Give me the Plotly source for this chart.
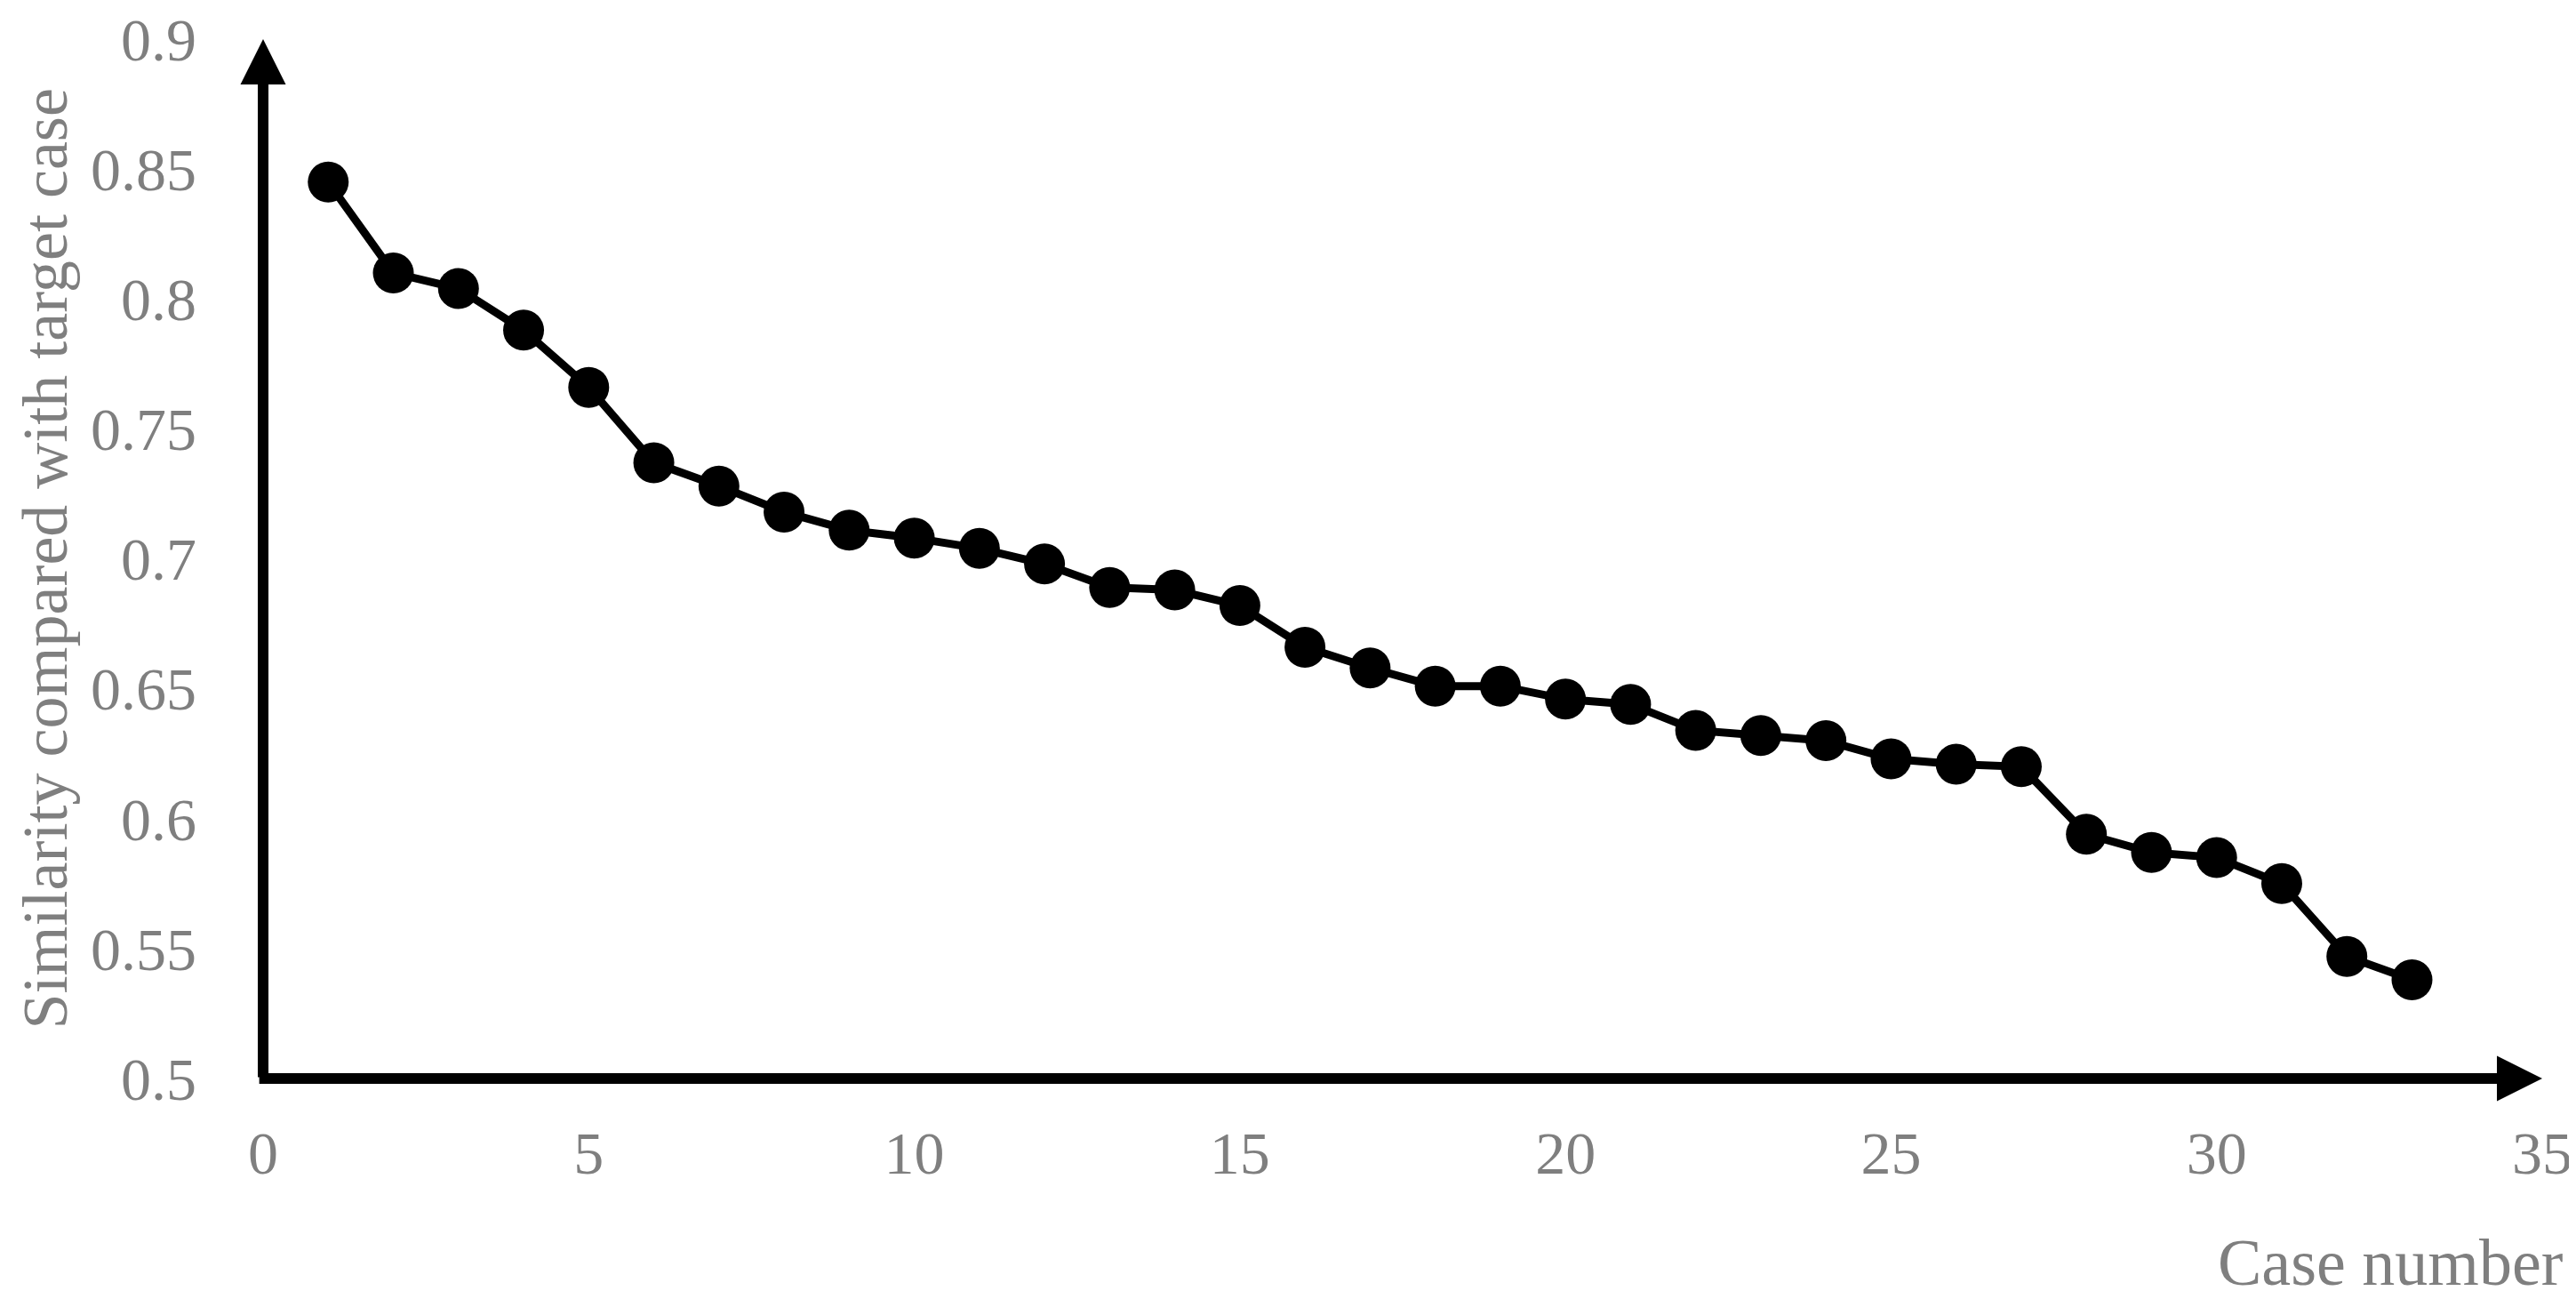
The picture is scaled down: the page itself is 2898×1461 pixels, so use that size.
"""Similarity of each stored case to the target case, sorted descending."""

import plotly.graph_objects as go

# Data
case_numbers = [1, 2, 3, 4, 5, 6, 7, 8, 9, 10, 11, 12, 13, 14, 15, 16, 17,
                18, 19, 20, 21, 22, 23, 24, 25, 26, 27, 28, 29, 30, 31, 32, 33]
similarity = [0.845, 0.810, 0.804, 0.788, 0.766, 0.737, 0.728, 0.718, 0.711,
              0.708, 0.704, 0.698, 0.689, 0.688, 0.682, 0.666, 0.658, 0.651,
              0.651, 0.646, 0.644, 0.634, 0.632, 0.630, 0.623, 0.621, 0.620,
              0.594, 0.587, 0.585, 0.575, 0.547, 0.538]

x_ticks = [0, 5, 10, 15, 20, 25, 30, 35]
y_ticks = [0.5, 0.55, 0.6, 0.65, 0.7, 0.75, 0.8, 0.85, 0.9]
y_tick_text = ["0.5", "0.55", "0.6", "0.65", "0.7", "0.75", "0.8", "0.85", "0.9"]

x_title = "Case number"
y_title = "Similarity compared with target case"

GRAY = "#7f7f7f"
FONT = "Liberation Serif"
AXIS_W = 12

fig = go.Figure()
fig.add_trace(
    go.Scatter(
        x=case_numbers,
        y=similarity,
        mode="lines+markers",
        line={"color": "black", "width": 9},
        marker={"color": "black", "size": 46},
        cliponaxis=False,
        showlegend=False,
    )
)

# Axis lines drawn as arrows (y up, x right)
fig.add_annotation(
    x=x_ticks[0], y=y_ticks[-1], ax=x_ticks[0], ay=y_ticks[0],
    xref="x", yref="y", axref="x", ayref="y",
    text="", showarrow=True, arrowhead=2, arrowsize=0.85,
    arrowwidth=AXIS_W, arrowcolor="black", standoff=0,
)
fig.add_annotation(
    x=x_ticks[-1], y=y_ticks[0], ax=-0.08, ay=y_ticks[0],
    xref="x", yref="y", axref="x", ayref="y",
    text="", showarrow=True, arrowhead=2, arrowsize=0.85,
    arrowwidth=AXIS_W, arrowcolor="black", standoff=0,
)

# Axis titles
fig.add_annotation(
    text=y_title, xref="paper", yref="paper", x=0, y=0.5,
    xshift=-246, xanchor="center", yanchor="middle", textangle=-90,
    showarrow=False, font={"family": FONT, "size": 72, "color": GRAY},
)
fig.add_annotation(
    text=x_title, xref="paper", yref="paper", x=1, y=0,
    xshift=25, yshift=-207, xanchor="right", yanchor="middle",
    showarrow=False, font={"family": FONT, "size": 74, "color": GRAY},
)

fig.update_xaxes(
    range=[0, 35], tickvals=x_ticks, showgrid=False, zeroline=False,
    showline=False, ticks="", ticklabelstandoff=38,
    ticklabeloverflow="allow", automargin=False,
    tickfont={"family": FONT, "size": 68, "color": GRAY},
)
fig.update_yaxes(
    range=[0.5, 0.90001], tickvals=y_ticks, ticktext=y_tick_text,
    showgrid=False, zeroline=False, showline=False, ticks="",
    ticklabelstandoff=74, ticklabeloverflow="allow", automargin=False,
    tickfont={"family": FONT, "size": 68, "color": GRAY},
)

fig.update_layout(
    width=2898,
    height=1461,
    margin={"l": 288, "r": 46, "t": 36, "b": 256},
    plot_bgcolor="white",
    paper_bgcolor="white",
)

fig.write_html("out.html")
